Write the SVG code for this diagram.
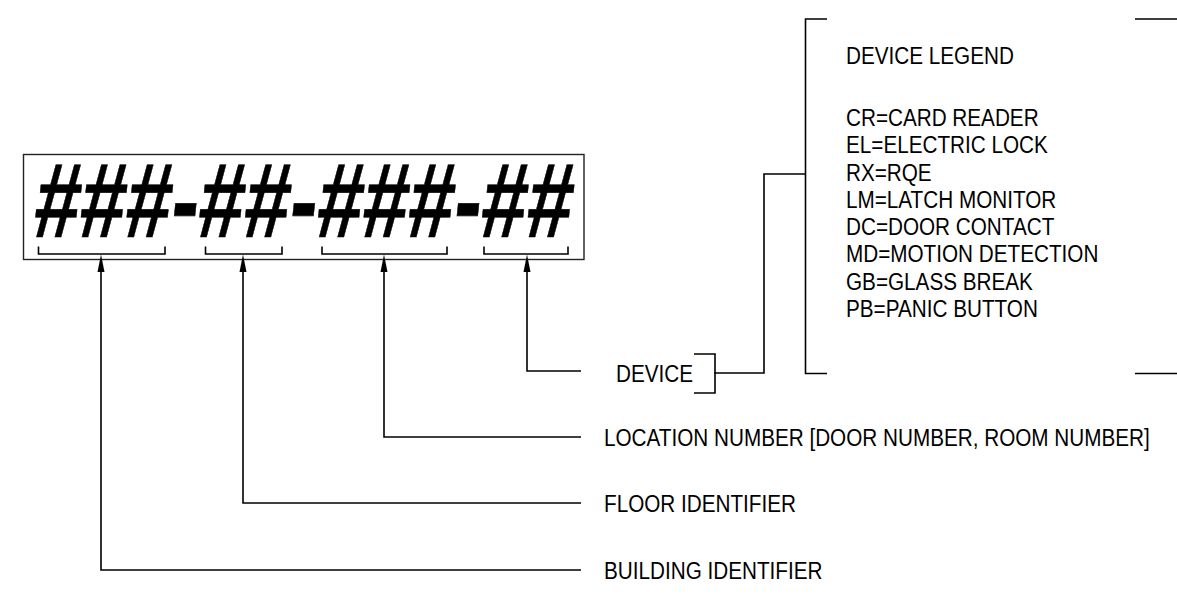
<svg xmlns="http://www.w3.org/2000/svg" width="1177" height="599" viewBox="0 0 1177 599">
<defs>
<style>
.t{font-family:"Liberation Sans",Arial,sans-serif;font-size:24.5px;fill:#000}
.ln{fill:none;stroke:#000;stroke-width:1.6}
.hash{font-family:"Liberation Sans",Arial,sans-serif;font-size:106px;font-weight:bold;fill:#000;stroke:#000;stroke-width:0.6}
.ah{fill:#000}
</style>
</defs>
<rect width="1177" height="599" fill="#fff"/>
<g id="code-box">
<rect x="23.5" y="154.5" width="560.5" height="105" fill="none" stroke="#222" stroke-width="1.4"/>
<text class="hash" transform="translate(0,237) skewX(-6) translate(0,-237)" x="32" y="237" textLength="538" lengthAdjust="spacingAndGlyphs">###-##-###-##</text>
<path class="ln" d="M38.5,246.5 V254 H165 V246.5 M205.5,246.5 V254 H282 V246.5 M322,246.5 V254 H447 V246.5 M484,246.5 V254 H568 V246.5"/>
</g>
<g id="connectors">
<path class="ln" d="M101,268 V570 H581"/>
<path class="ln" d="M243,268 V503 H581"/>
<path class="ln" d="M384,268 V437 H581"/>
<path class="ln" d="M527,268 V371 H581"/>
<polygon class="ah" points="101,254.5 97.5,272 104.5,272"/>
<polygon class="ah" points="243,254.5 239.5,272 246.5,272"/>
<polygon class="ah" points="384,254.5 380.5,272 387.5,272"/>
<polygon class="ah" points="527,254.5 523.5,272 530.5,272"/>
<path class="ln" d="M714,373 H764 V174 H805"/>
</g>
<g id="device">
<text class="t" transform="translate(616,382) scale(0.845,1)">DEVICE</text>
<path class="ln" d="M694,354 H715 V393 H694"/>
</g>
<g id="location"><text class="t" transform="translate(604,446) scale(0.845,1)">LOCATION NUMBER [DOOR NUMBER, ROOM NUMBER]</text></g>
<g id="floor"><text class="t" transform="translate(604,512) scale(0.845,1)">FLOOR IDENTIFIER</text></g>
<g id="building"><text class="t" transform="translate(604,579) scale(0.845,1)">BUILDING IDENTIFIER</text></g>
<g id="legend">
<path class="ln" d="M827,19 H805.5 V373.5 H827"/>
<path class="ln" d="M1135,19 H1177 M1135,373.5 H1177"/>
<text class="t" transform="translate(846,64) scale(0.845,1)">DEVICE LEGEND</text>
<text class="t" transform="translate(846,125.5) scale(0.845,1)">CR=CARD READER</text>
<text class="t" transform="translate(846,153) scale(0.845,1)">EL=ELECTRIC LOCK</text>
<text class="t" transform="translate(846,180.5) scale(0.845,1)">RX=RQE</text>
<text class="t" transform="translate(846,207.5) scale(0.845,1)">LM=LATCH MONITOR</text>
<text class="t" transform="translate(846,235) scale(0.845,1)">DC=DOOR CONTACT</text>
<text class="t" transform="translate(846,262) scale(0.845,1)">MD=MOTION DETECTION</text>
<text class="t" transform="translate(846,289.5) scale(0.845,1)">GB=GLASS BREAK</text>
<text class="t" transform="translate(846,317) scale(0.845,1)">PB=PANIC BUTTON</text>
</g>
</svg>
